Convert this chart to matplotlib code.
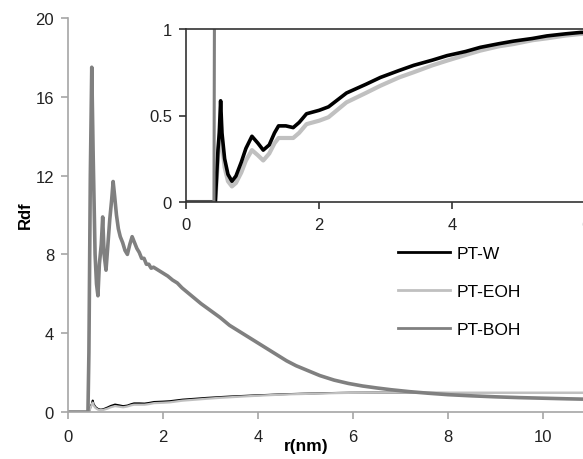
import matplotlib
matplotlib.use("Agg")
import matplotlib.pyplot as plt

plt.rcParams['font.family'] = ['Liberation Sans', 'DejaVu Sans']

# ---- data ----
r_boh = [0, 0.42, 0.44, 0.47, 0.50, 0.53, 0.57, 0.60, 0.63, 0.66, 0.70, 0.73, 0.76,
         0.80, 0.84, 0.88, 0.92, 0.95, 0.98, 1.02, 1.06, 1.10, 1.15, 1.20, 1.25,
         1.30, 1.35, 1.40, 1.45, 1.50, 1.55, 1.60, 1.65, 1.70, 1.75, 1.80, 1.90, 2.0,
         2.1, 2.2, 2.3, 2.4, 2.6, 2.8, 3.0, 3.2, 3.4, 3.6, 3.8, 4.0, 4.2, 4.4, 4.6,
         4.8, 5.0, 5.3, 5.6, 5.9, 6.2, 6.5, 6.8, 7.2, 7.6, 8.0, 8.5, 9.0, 9.5, 10.0,
         10.5, 10.9]
pt_boh = [0, 0, 3.0, 12.0, 17.5, 13.0, 8.0, 6.5, 5.9, 7.5, 8.5, 9.9, 8.0,
          7.2, 8.5, 9.8, 10.8, 11.7, 11.0, 10.0, 9.3, 8.9, 8.6, 8.2, 8.0,
          8.5, 8.9, 8.6, 8.3, 8.1, 7.8, 7.8, 7.5, 7.5, 7.3, 7.35, 7.2, 7.05,
          6.9, 6.7, 6.55, 6.3, 5.9, 5.5, 5.15, 4.8, 4.4, 4.1, 3.8, 3.5, 3.2, 2.9, 2.6,
          2.35, 2.15, 1.85, 1.62, 1.45, 1.32, 1.22, 1.13, 1.03, 0.95, 0.88, 0.82, 0.77,
          0.73, 0.70, 0.67, 0.65]

r_we = [0, 0.44, 0.48, 0.50, 0.52, 0.54, 0.58, 0.63, 0.69, 0.75, 0.83, 0.90, 0.99,
        1.08, 1.16, 1.25, 1.33, 1.39, 1.50, 1.61, 1.70, 1.81, 2.0, 2.14, 2.41, 2.7,
        2.92, 3.2, 3.42, 3.7, 3.92, 4.2, 4.42, 4.7, 4.92, 5.2, 5.42, 5.7, 5.92, 6.5,
        7.0, 7.5, 8.0, 8.5, 9.0, 9.5, 10.0, 10.5, 10.9]
pt_w = [0, 0, 0.30, 0.40, 0.585, 0.40, 0.25, 0.16, 0.12, 0.15, 0.23, 0.31, 0.38,
        0.34, 0.30, 0.33, 0.40, 0.44, 0.44, 0.43, 0.46, 0.51, 0.53, 0.55, 0.63, 0.68,
        0.72, 0.76, 0.79, 0.82, 0.846, 0.87, 0.894, 0.915, 0.93, 0.945, 0.96, 0.972, 0.98, 0.985,
        0.98, 0.975, 0.97, 0.97, 0.97, 0.97, 0.97, 0.97, 0.97]
pt_eoh = [0, 0, 0.25, 0.35, 0.48, 0.33, 0.20, 0.12, 0.09, 0.11, 0.17, 0.24, 0.30,
          0.27, 0.24, 0.28, 0.34, 0.37, 0.37, 0.37, 0.40, 0.45, 0.47, 0.49, 0.576, 0.63,
          0.672, 0.72, 0.75, 0.79, 0.817, 0.85, 0.875, 0.90, 0.913, 0.935, 0.946, 0.962, 0.971, 0.98,
          0.98, 0.975, 0.97, 0.97, 0.97, 0.97, 0.97, 0.97, 0.97]

labels = ['PT-W', 'PT-EOH', 'PT-BOH']
colors = ['#000000', '#c0c0c0', '#808080']
main_xticks = [0, 2, 4, 6, 8, 10]
main_yticks = [0, 4, 8, 12, 16, 20]
inset_xticks = [0, 2, 4, 6]
inset_yticks = [0, 0.5, 1]
inset_yticklabels = ['0', '0.5', '1']

W, H = 583, 460
fig = plt.figure(figsize=(W / 100, H / 100), dpi=100)

# ---- main axes ----
ax = fig.add_axes([68 / W, (H - 413) / H, (583 - 68) / W, (413 - 19) / H])
lw_ = ax.plot(r_we, pt_w, color=colors[0], lw=1.4, label=labels[0])[0]
le_ = ax.plot(r_we, pt_eoh, color=colors[1], lw=1.6, label=labels[1])[0]
lb_ = ax.plot(r_boh, pt_boh, color=colors[2], lw=2.6, label=labels[2])[0]
ax.set_xlim(0, 10.84)
ax.set_ylim(0, 20)
ax.set_xticks(main_xticks)
ax.set_yticks(main_yticks)
for s in ['top', 'right']:
    ax.spines[s].set_visible(False)
for s in ['left', 'bottom']:
    ax.spines[s].set_color('#a6a6a6')
    ax.spines[s].set_linewidth(1.2)
ax.tick_params(direction='out', length=5, width=1.2, color='#a6a6a6',
               labelsize=12, labelcolor='#222222', pad=5)
ax.tick_params(axis='x', pad=7)

fig.text(25 / W, 1 - 215 / H, 'Rdf', rotation=90, fontsize=12, fontweight='bold',
         ha='center', va='center')
fig.text(306 / W, 1 - 447 / H, 'r(nm)', fontsize=12.5, fontweight='bold',
         ha='center', va='center')

leg = fig.legend(handles=[lw_, le_, lb_], labels=labels, loc='upper left',
                 bbox_to_anchor=(398 / W, 1 - 247 / H), frameon=False,
                 fontsize=12.5, handlelength=3.0, handletextpad=0.4,
                 labelspacing=1.32, borderpad=0, borderaxespad=0)
for h in leg.legend_handles:
    h.set_linewidth(2)

# ---- inset ----
axi = fig.add_axes([186 / W, (H - 203) / H, 399.5 / W, (203 - 30) / H])
axi.plot(r_we, pt_eoh, color=colors[1], lw=3.0)
axi.plot(r_we, pt_w, color=colors[0], lw=2.6)
axi.plot(r_boh, pt_boh, color=colors[2], lw=2.2)
axi.set_xlim(0, 6)
axi.set_ylim(0, 1)
axi.set_xticks(inset_xticks)
axi.set_yticks(inset_yticks)
axi.set_yticklabels(inset_yticklabels)
for s in axi.spines.values():
    s.set_color('#333333')
    s.set_linewidth(1.2)
axi.tick_params(direction='out', length=5, width=1.2, color='#333333',
                labelsize=12, labelcolor='#222222', pad=5)
axi.tick_params(axis='x', pad=6)

fig.savefig('out.png', dpi=100)
